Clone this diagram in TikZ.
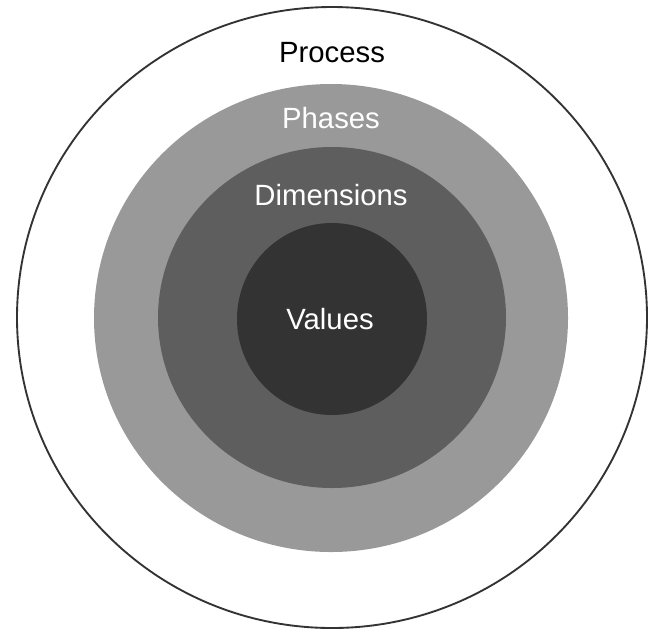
\documentclass[tikz,border=0pt]{standalone}
\usepackage{fontspec}
\setmainfont{Liberation Sans}
\usepackage{tikz}
\tikzset{ringlabel/.style={anchor=base, inner sep=0pt, font=\fontsize{25}{30}\selectfont}}

\begin{document}
\begin{tikzpicture}[x=0.03cm, y=-0.03cm]
			%%%%% START %%%%%
			
			\useasboundingbox (0, 0) rectangle (651, 631);
			
			\draw[line width=1.6pt, color=black!80] (332, 317.5) ellipse (315 and 310.5);
			\fill[color=black!40] (331, 318) ellipse (237 and 234);
			\fill[color=black!63] (332, 317.5) ellipse (174 and 170.5);
			\fill[color=black!80] (332, 319) ellipse (95 and 96);
			
			\node[ringlabel, color=black] (process) at (332, 62) {Process};
			\node[ringlabel, color=white] (phases) at (331, 128) {Phases};
			\node[ringlabel, color=white] (dimensions) at (331, 205) {Dimensions};
			\node[ringlabel, color=white] (values) at (330, 329) {Values};
			
			%%%%% END %%%%%
		\end{tikzpicture}
\end{document}
